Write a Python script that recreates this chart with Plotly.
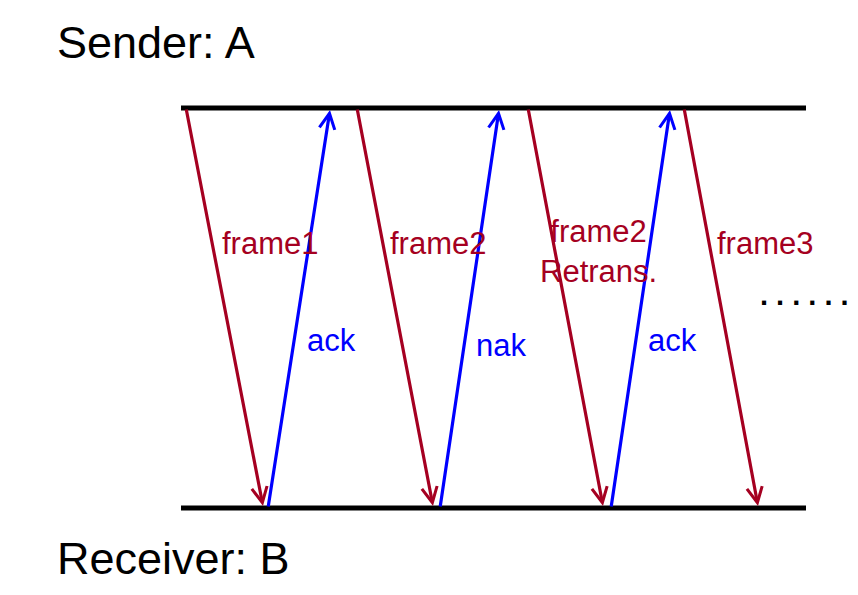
import plotly.graph_objects as go

# stop-and-wait timeline: where each message leaves and arrives (pixel-like time axis)
stations = ["Sender: A", "Receiver: B"]
station_level = [108, 508]
timeline_span = [181, 806]

frame_labels = ["frame1", "frame2", "frame2<br>Retrans.", "frame3"]
frame_send = [186, 357, 528, 684]
frame_recv = [263, 433, 603, 758]

reply_labels = ["ack", "nak", "ack"]
reply_send = [268, 440, 611]
reply_recv = [330, 499, 670]

RED = "#A50021"
BLUE = "#0000FF"
FONT = "Liberation Sans, Arial, sans-serif"
PAGE_PAD = 8  # body margin of the page

fig = go.Figure()

# timelines
for lvl in station_level:
    fig.add_shape(type="line", x0=timeline_span[0], x1=timeline_span[1], y0=lvl, y1=lvl,
                  xref="x", yref="y", line=dict(color="black", width=5))

top, bottom = station_level


def arrow(x0, y0, x1, y1, color):
    fig.add_annotation(x=x1, y=y1, ax=x0, ay=y0, xref="x", yref="y", axref="x", ayref="y",
                       text="", showarrow=True, arrowhead=5, arrowsize=0.95, arrowwidth=3.2,
                       arrowcolor=color, standoff=0, startstandoff=0, font=dict(size=1))


for s, r in zip(frame_send, frame_recv):
    arrow(s, top, r, bottom - 2, color=RED)
for s, r in zip(reply_send, reply_recv):
    arrow(s, bottom, r, top + 2, color=BLUE)

# frame labels, placed relative to their arrows
frame_label_y = [243, 243, 251, 243]
frame_label_dx = [58, 55, 44, 56]
for lab, s, r, ly, dx in zip(frame_labels, frame_send, frame_recv, frame_label_y, frame_label_dx):
    ax_x = s + (r - s) * (ly - top) / (bottom - top)
    fig.add_annotation(x=ax_x + dx, y=ly, text=lab, showarrow=False, xanchor="center",
                       yanchor="middle", font=dict(family=FONT, size=31, color=RED))

reply_label_y = [340, 345, 340]
for lab, s, r, ly in zip(reply_labels, reply_send, reply_recv, reply_label_y):
    ax_x = s + (r - s) * (bottom - ly) / (bottom - top)
    fig.add_annotation(x=ax_x + 37, y=ly, text=lab, showarrow=False, xanchor="center",
                       yanchor="middle", font=dict(family=FONT, size=31, color=BLUE))

# station names
fig.add_annotation(x=55, y=42, text=stations[0], showarrow=False, xanchor="left", yanchor="middle",
                   font=dict(family=FONT, size=45, color="black"))
fig.add_annotation(x=55, y=558, text=stations[1], showarrow=False, xanchor="left", yanchor="middle",
                   font=dict(family=FONT, size=45, color="black"))

# continuation dots
fig.add_annotation(x=758, y=295, text="<b>. . . . . .</b>", showarrow=False, xanchor="left",
                   yanchor="middle", font=dict(family=FONT, size=29, color="black"))

fig.update_xaxes(range=[PAGE_PAD, 858], visible=False, fixedrange=True)
fig.update_yaxes(range=[595, PAGE_PAD], visible=False, fixedrange=True)
fig.update_layout(width=858 - PAGE_PAD, height=595 - PAGE_PAD, margin=dict(l=0, r=0, t=0, b=0),
                  plot_bgcolor="white", paper_bgcolor="white", showlegend=False)

fig.write_html("out.html")
